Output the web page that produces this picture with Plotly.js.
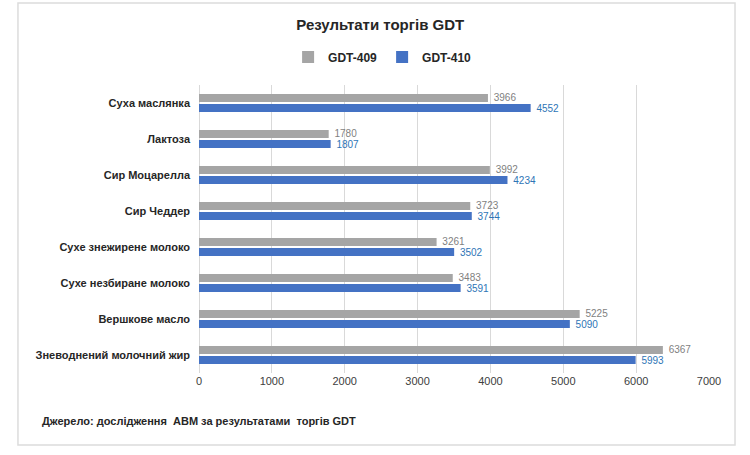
<!DOCTYPE html>
<html>
<head>
<meta charset="utf-8">
<script src="https://cdn.plot.ly/plotly-3.0.1.min.js"></script>
<style>
  body { margin: 0; background: #fff; }
  #chart { width: 750px; height: 455px; }
</style>
</head>
<body>
<div id="chart"></div>
<script>
// categories, top to bottom
const products = [
  'Суха маслянка',
  'Лактоза',
  'Сир Моцарелла',
  'Сир Чеддер',
  'Сухе знежирене молоко',
  'Сухе незбиране молоко',
  'Вершкове масло',
  'Зневоднений молочний жир'
];
const gdt409 = [3966, 1780, 3992, 3723, 3261, 3483, 5225, 6367];
const gdt410 = [4552, 1807, 4234, 3744, 3502, 3591, 5090, 5993];
const xTicks = [0, 1000, 2000, 3000, 4000, 5000, 6000, 7000];

const font = 'Liberation Sans, Arial, sans-serif';
// small lead-in so value labels sit a little off the bar ends
const pad = v => '\u00a0' + v;

const data = [
  {
    type: 'bar', orientation: 'h',
    name: '<b>GDT-409</b>',
    y: products, x: gdt409,
    text: gdt409.map(pad),
    textposition: 'outside',
    constraintext: 'none',
    outsidetextfont: {color: '#7f7f7f', size: 10, family: font},
    marker: {color: '#a5a5a5'},
    cliponaxis: false
  },
  {
    type: 'bar', orientation: 'h',
    name: '<b>GDT-410</b>',
    y: products, x: gdt410,
    text: gdt410.map(pad),
    textposition: 'outside',
    constraintext: 'none',
    outsidetextfont: {color: '#2e75b6', size: 10, family: font},
    marker: {color: '#4472c4'},
    cliponaxis: false
  }
];

const layout = {
  width: 750,
  height: 455,
  paper_bgcolor: '#fff',
  plot_bgcolor: '#fff',
  margin: {l: 199, r: 41, t: 85, b: 82},
  font: {family: font, color: '#404040'},
  barmode: 'group',
  bargap: 0.44,
  bargroupgap: 0.2,
  title: {
    text: '<b>Результати торгів GDT</b>',
    font: {size: 15, color: '#262626', family: font},
    x: 0.507, xanchor: 'center',
    y: 0.945, yanchor: 'middle'
  },
  showlegend: true,
  legend: {
    orientation: 'h',
    x: 0.36, xanchor: 'center',
    y: 1.097, yanchor: 'middle',
    font: {size: 12, color: '#262626', family: font},
    itemwidth: 30,
    traceorder: 'normal'
  },
  xaxis: {
    range: [0, 7000],
    tickvals: xTicks,
    ticktext: xTicks.map(String),
    showgrid: true,
    gridcolor: '#d9d9d9',
    gridwidth: 1,
    zeroline: true,
    zerolinecolor: '#d9d9d9',
    showline: false,
    ticks: '',
    tickfont: {size: 11, color: '#404040'},
    fixedrange: true
  },
  yaxis: {
    autorange: 'reversed',
    ticks: '',
    ticklabelstandoff: 8,
    showline: false,
    tickfont: {size: 11, color: '#262626', family: font, weight: 'bold'},
    fixedrange: true
  },
  shapes: [{
    type: 'rect', xref: 'paper', yref: 'paper',
    x0: -0.355, x1: 1.051, y0: -0.25, y1: 1.285,
    line: {color: '#dcdcdc', width: 1.5},
    layer: 'below'
  }],
  annotations: [{
    xref: 'paper', yref: 'paper',
    x: -0.312, y: -0.167,
    xanchor: 'left', yanchor: 'middle',
    showarrow: false,
    text: '<b>Джерело: дослідження  АВМ за результатами  торгів GDT</b>',
    font: {size: 11, color: '#262626', family: font}
  }]
};

Plotly.newPlot('chart', data, layout, {displayModeBar: false, staticPlot: true});
</script>
</body>
</html>
